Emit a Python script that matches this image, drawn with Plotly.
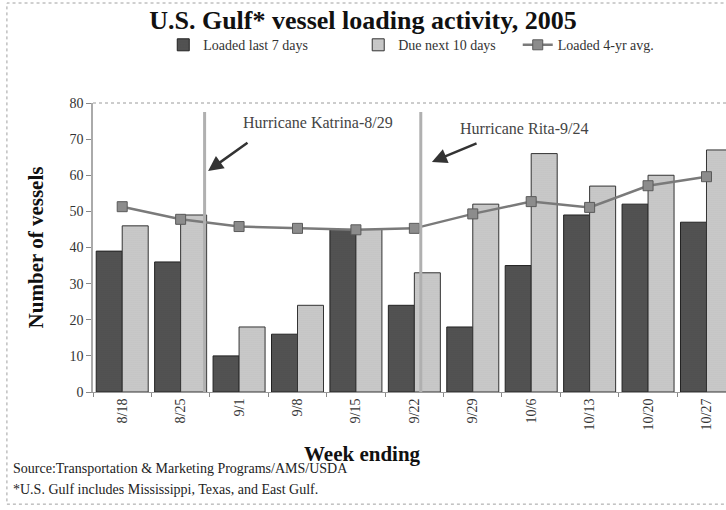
import plotly.graph_objects as go

# Weekly vessel counts at U.S. Gulf ports, 2005
weeks = ["8/18", "8/25", "9/1", "9/8", "9/15", "9/22", "9/29", "10/6", "10/13", "10/20", "10/27"]
loaded_last_7 = [39, 36, 10, 16, 45, 24, 18, 35, 49, 52, 47]
due_next_10 = [46, 49, 18, 24, 45, 33, 52, 66, 57, 60, 67]
loaded_4yr_avg = [51.3, 47.8, 45.8, 45.3, 44.9, 45.3, 49.3, 52.7, 51.1, 57.1, 59.6]

# Hurricane landfall markers, in category-axis units
katrina_x = 1.41
rita_x = 5.11

SERIF = "Liberation Serif, Times New Roman, serif"

fig = go.Figure()

fig.add_trace(go.Bar(
    x=weeks, y=loaded_last_7, name="Loaded last 7 days", legend="legend",
    marker=dict(color="#4a4a4a", line=dict(color="#222", width=1),
                pattern=dict(shape=".", fgcolor="#2a2a2a", bgcolor="#565656",
                             size=2, solidity=0.3)),
))
fig.add_trace(go.Bar(
    x=weeks, y=due_next_10, name="Due next 10 days", legend="legend2",
    marker=dict(color="#c4c4c4", line=dict(color="#333", width=1),
                pattern=dict(shape=".", fgcolor="#999999", bgcolor="#cccccc",
                             size=2, solidity=0.3)),
))
fig.add_trace(go.Scatter(
    x=weeks, y=loaded_4yr_avg, name="Loaded 4-yr avg.", legend="legend3",
    mode="lines+markers",
    line=dict(color="#7a7a7a", width=2.5),
    marker=dict(symbol="square", size=10, color="#8c8c8c",
                line=dict(color="#5a5a5a", width=1)),
))

shapes = [
    # dotted top border of plot area
    dict(type="line", xref="paper", yref="paper", x0=0, x1=1, y0=1, y1=1,
         line=dict(color="#9a9a9a", width=1, dash="dot")),
    # hurricane lines
    dict(type="line", xref="x", yref="y", x0=katrina_x, x1=katrina_x, y0=0, y1=77.5,
         line=dict(color="#b0b0b0", width=3), layer="above"),
    dict(type="line", xref="x", yref="y", x0=rita_x, x1=rita_x, y0=0, y1=77.5,
         line=dict(color="#b0b0b0", width=3), layer="above"),
    # outer frame
    dict(type="rect", xref="paper", yref="paper", x0=-0.136, x1=1.02, y0=-0.388, y1=1.346,
         line=dict(color="#a0a0a0", width=1, dash="dot")),
]

annotations = [
    dict(x=3.35, y=74.5, xref="x", yref="y", text="Hurricane Katrina-8/29",
         showarrow=False, font=dict(family=SERIF, size=16, color="#444")),
    dict(x=6.88, y=72.9, xref="x", yref="y", text="Hurricane Rita-9/24",
         showarrow=False, font=dict(family=SERIF, size=16, color="#444")),
    dict(x=1.47, y=61.2, xref="x", yref="y", ax=2.17, ay=69.3, axref="x", ayref="y",
         text="", showarrow=True, arrowhead=2, arrowsize=1.2, arrowwidth=2.5, arrowcolor="#333"),
    dict(x=5.30, y=63.7, xref="x", yref="y", ax=6.09, ay=69.0, axref="x", ayref="y",
         text="", showarrow=True, arrowhead=2, arrowsize=1.2, arrowwidth=2.5, arrowcolor="#333"),
    dict(x=(362 - 93) / 633, y=(392 - 454) / 289, xref="paper", yref="paper",
         xanchor="center", yanchor="middle", showarrow=False,
         text="<b>Week ending</b>", font=dict(family=SERIF, size=21, color="#111")),
    dict(x=-0.13, y=(392 - 468) / 289, xref="paper", yref="paper", xanchor="left",
         yanchor="middle", showarrow=False,
         text="Source:Transportation & Marketing Programs/AMS/USDA",
         font=dict(family=SERIF, size=14, color="#222")),
    dict(x=-0.13, y=(392 - 490) / 289, xref="paper", yref="paper", xanchor="left",
         yanchor="middle", showarrow=False,
         text="*U.S. Gulf includes Mississippi, Texas, and East Gulf.",
         font=dict(family=SERIF, size=14, color="#222")),
]

legend_common = dict(orientation="h", yanchor="middle", y=1.2, xanchor="left",
                     bgcolor="rgba(0,0,0,0)", font=dict(family=SERIF, size=14, color="#333"),
                     itemwidth=30)

fig.update_layout(
    width=726, height=510,
    margin=dict(l=93, r=0, t=103, b=118),
    paper_bgcolor="white", plot_bgcolor="white",
    showlegend=True,
    barmode="group", bargap=0.11, bargroupgap=0,
    title=dict(text="<b>U.S. Gulf* vessel loading activity, 2005</b>", x=0.5, xanchor="center",
               y=1 - 20 / 510, yanchor="middle",
               font=dict(family=SERIF, size=26, color="#111")),
    legend=dict(legend_common, x=0.111),
    legend2=dict(legend_common, x=0.419),
    legend3=dict(legend_common, x=0.671),
    shapes=shapes,
    annotations=annotations,
    xaxis=dict(type="category", range=[-0.5, 10.334], tickson="boundaries",
               ticks="outside", ticklen=4, tickcolor="#888",
               showline=True, linecolor="#999", linewidth=1,
               tickangle=-90, tickfont=dict(family=SERIF, size=14, color="#333")),
    yaxis=dict(range=[0, 80], dtick=10, showgrid=False, zeroline=False,
               ticks="outside", ticklen=5, tickcolor="#888",
               showline=True, linecolor="#aaa", linewidth=1.5,
               tickfont=dict(family=SERIF, size=14, color="#333"),
               title=dict(text="<b>Number of vessels</b>", standoff=20,
                          font=dict(family=SERIF, size=21, color="#111"))),
)

fig.write_html("out.html")
